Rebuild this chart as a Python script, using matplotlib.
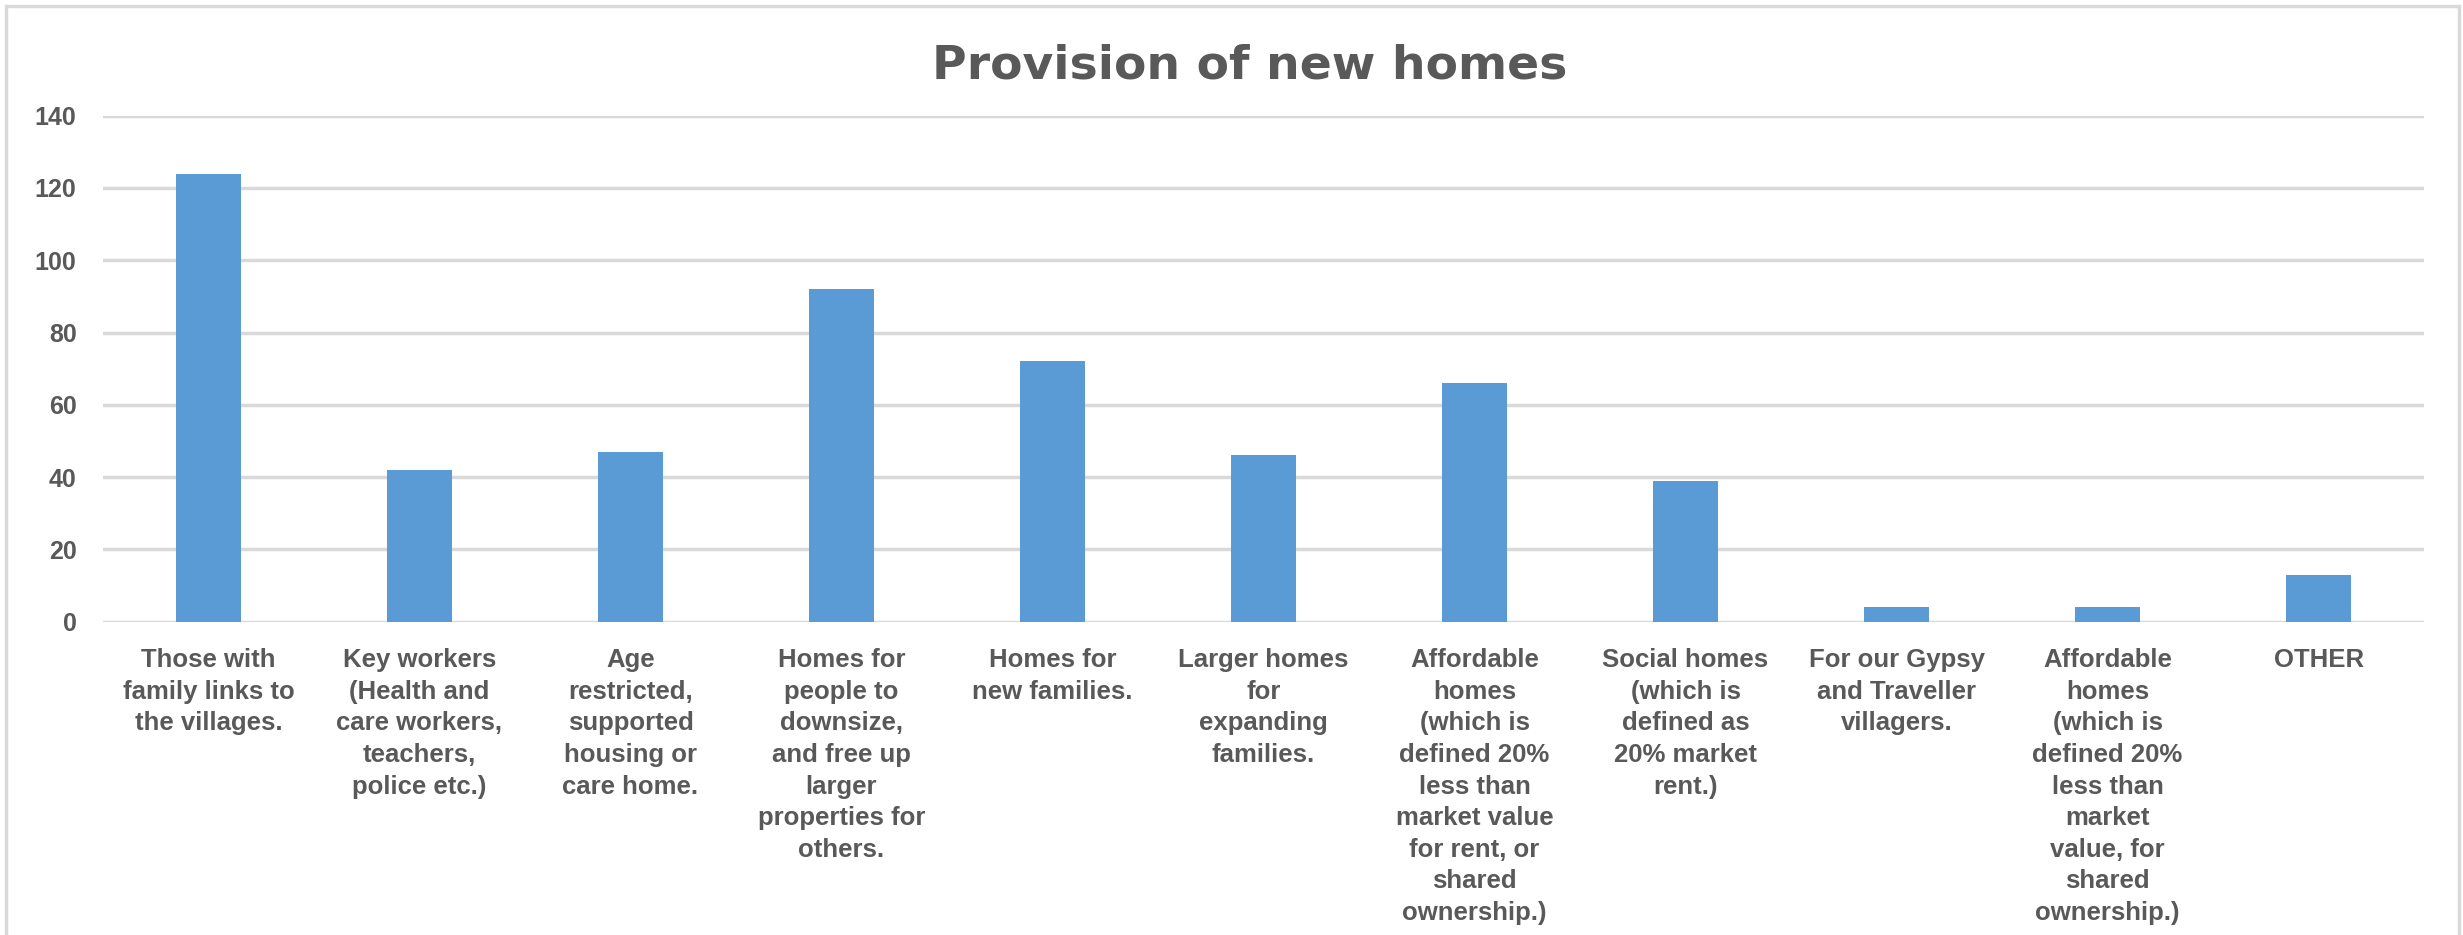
import matplotlib
matplotlib.use('Agg')
import matplotlib.pyplot as plt
from matplotlib.patches import Rectangle

# 数据
categories = [
    'Those with\nfamily links to\nthe villages.',
    'Key workers\n(Health and\ncare workers,\nteachers,\npolice etc.)',
    'Age\nrestricted,\nsupported\nhousing or\ncare home.',
    'Homes for\npeople to\ndownsize,\nand free up\nlarger\nproperties for\nothers.',
    'Homes for\nnew families.',
    'Larger homes\nfor\nexpanding\nfamilies.',
    'Affordable\nhomes\n(which is\ndefined 20%\nless than\nmarket value\nfor rent, or\nshared\nownership.)',
    'Social homes\n(which is\ndefined as\n20% market\nrent.)',
    'For our Gypsy\nand Traveller\nvillagers.',
    'Affordable\nhomes\n(which is\ndefined 20%\nless than\nmarket\nvalue, for\nshared\nownership.)',
    'OTHER',
]
values = [124, 42, 47, 92, 72, 46, 66, 39, 4, 4, 13]
y_ticks = [0, 20, 40, 60, 80, 100, 120, 140]

title = 'Provision of new homes'
bar_color = '#5B9BD5'
text_color = '#595959'
grid_color = '#D9D9D9'
narrow = ['Liberation Sans', 'DejaVu Sans']

plt.rcParams['font.family'] = ['DejaVu Sans']

fig = plt.figure(figsize=(24.63, 9.35), dpi=100)
ax = fig.add_axes([0.0418, 0.335, 0.9424, 0.5413])

x = list(range(len(categories)))
ax.bar(x, values, width=0.31, color=bar_color, zorder=3)

ax.set_xlim(-0.5, len(categories) - 0.5)
ax.set_ylim(0, 140)
ax.set_yticks(y_ticks)
ax.set_yticklabels([str(t) for t in y_ticks], fontsize=18, fontweight='bold',
                   color=text_color, family=narrow)
ax.set_xticks(x)
ax.set_xticklabels(categories, fontsize=18.5, fontweight='bold', color=text_color,
                   linespacing=1.4, va='top', family=narrow)

ax.grid(axis='y', color=grid_color, linewidth=2.5, zorder=0)
ax.tick_params(axis='both', length=0)
ax.tick_params(axis='x', pad=19)
ax.tick_params(axis='y', pad=19)
for s in ax.spines.values():
    s.set_visible(False)

fig.text(0.5075, 0.929, title, ha='center', va='center', fontsize=34,
         fontweight='bold', color=text_color)

# 图表外框
fig.patches.append(Rectangle((0.0024, -0.05), 0.9959, 1.044, transform=fig.transFigure,
                             fill=False, edgecolor='#D9D9D9', linewidth=2.5))

fig.savefig('out.png', dpi=100)
